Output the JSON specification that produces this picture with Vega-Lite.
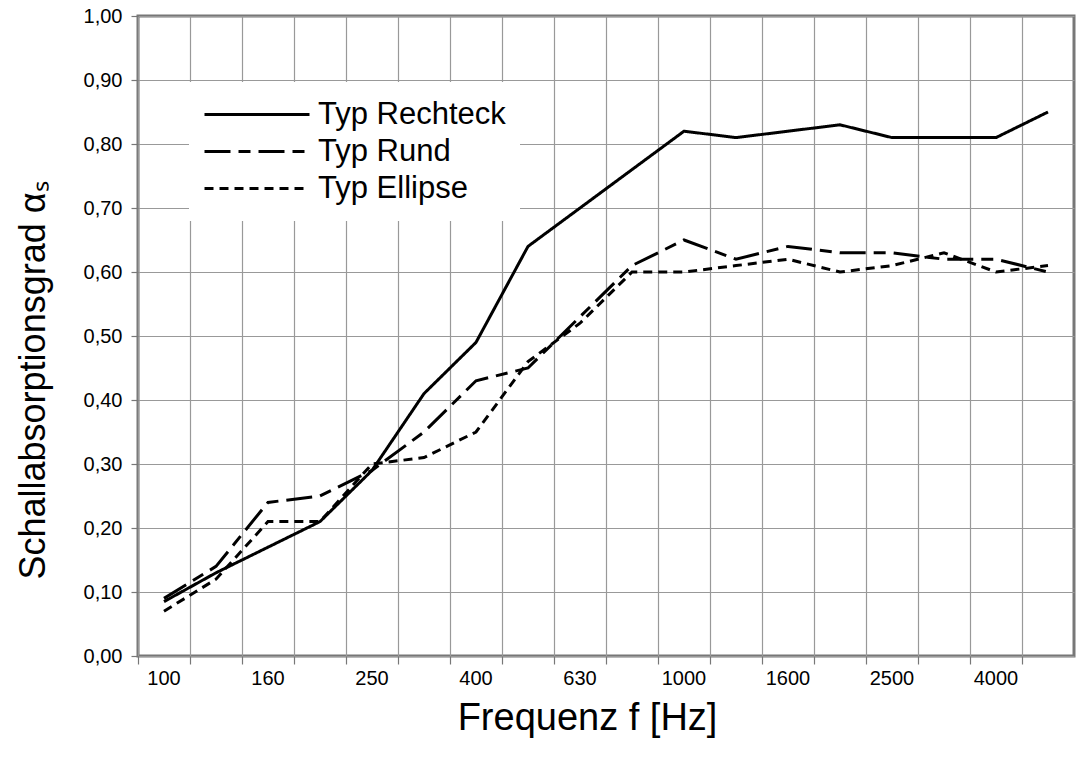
{
  "$schema": "https://vega.github.io/schema/vega-lite/v6.json",
  "width": 936,
  "height": 640,
  "autosize": "none",
  "padding": {"left": 138, "top": 16, "right": 9, "bottom": 111},
  "background": "white",
  "config": {
    "font": "Liberation Sans",
    "view": {"stroke": "#777777", "strokeWidth": 3},
    "axis": {
      "labelFont": "Liberation Sans",
      "titleFont": "Liberation Sans",
      "labelColor": "black",
      "titleColor": "black",
      "titleFontWeight": "normal",
      "gridColor": "#999999",
      "gridWidth": 1.2,
      "gridOpacity": 1,
      "tickColor": "#777777",
      "tickWidth": 1.2,
      "domain": false
    }
  },
  "data": {
    "values": [
      {"f": 100, "typ": "Typ Rechteck", "a": 0.085},
      {"f": 125, "typ": "Typ Rechteck", "a": 0.13},
      {"f": 160, "typ": "Typ Rechteck", "a": 0.17},
      {"f": 200, "typ": "Typ Rechteck", "a": 0.21},
      {"f": 250, "typ": "Typ Rechteck", "a": 0.29},
      {"f": 315, "typ": "Typ Rechteck", "a": 0.41},
      {"f": 400, "typ": "Typ Rechteck", "a": 0.49},
      {"f": 500, "typ": "Typ Rechteck", "a": 0.64},
      {"f": 630, "typ": "Typ Rechteck", "a": 0.70},
      {"f": 800, "typ": "Typ Rechteck", "a": 0.76},
      {"f": 1000, "typ": "Typ Rechteck", "a": 0.82},
      {"f": 1250, "typ": "Typ Rechteck", "a": 0.81},
      {"f": 1600, "typ": "Typ Rechteck", "a": 0.82},
      {"f": 2000, "typ": "Typ Rechteck", "a": 0.83},
      {"f": 2500, "typ": "Typ Rechteck", "a": 0.81},
      {"f": 3150, "typ": "Typ Rechteck", "a": 0.81},
      {"f": 4000, "typ": "Typ Rechteck", "a": 0.81},
      {"f": 5000, "typ": "Typ Rechteck", "a": 0.85},
      {"f": 100, "typ": "Typ Rund", "a": 0.09},
      {"f": 125, "typ": "Typ Rund", "a": 0.14},
      {"f": 160, "typ": "Typ Rund", "a": 0.24},
      {"f": 200, "typ": "Typ Rund", "a": 0.25},
      {"f": 250, "typ": "Typ Rund", "a": 0.29},
      {"f": 315, "typ": "Typ Rund", "a": 0.35},
      {"f": 400, "typ": "Typ Rund", "a": 0.43},
      {"f": 500, "typ": "Typ Rund", "a": 0.45},
      {"f": 630, "typ": "Typ Rund", "a": 0.53},
      {"f": 800, "typ": "Typ Rund", "a": 0.61},
      {"f": 1000, "typ": "Typ Rund", "a": 0.65},
      {"f": 1250, "typ": "Typ Rund", "a": 0.62},
      {"f": 1600, "typ": "Typ Rund", "a": 0.64},
      {"f": 2000, "typ": "Typ Rund", "a": 0.63},
      {"f": 2500, "typ": "Typ Rund", "a": 0.63},
      {"f": 3150, "typ": "Typ Rund", "a": 0.62},
      {"f": 4000, "typ": "Typ Rund", "a": 0.62},
      {"f": 5000, "typ": "Typ Rund", "a": 0.60},
      {"f": 100, "typ": "Typ Ellipse", "a": 0.07},
      {"f": 125, "typ": "Typ Ellipse", "a": 0.12},
      {"f": 160, "typ": "Typ Ellipse", "a": 0.21},
      {"f": 200, "typ": "Typ Ellipse", "a": 0.21},
      {"f": 250, "typ": "Typ Ellipse", "a": 0.30},
      {"f": 315, "typ": "Typ Ellipse", "a": 0.31},
      {"f": 400, "typ": "Typ Ellipse", "a": 0.35},
      {"f": 500, "typ": "Typ Ellipse", "a": 0.46},
      {"f": 630, "typ": "Typ Ellipse", "a": 0.52},
      {"f": 800, "typ": "Typ Ellipse", "a": 0.60},
      {"f": 1000, "typ": "Typ Ellipse", "a": 0.60},
      {"f": 1250, "typ": "Typ Ellipse", "a": 0.61},
      {"f": 1600, "typ": "Typ Ellipse", "a": 0.62},
      {"f": 2000, "typ": "Typ Ellipse", "a": 0.60},
      {"f": 2500, "typ": "Typ Ellipse", "a": 0.61},
      {"f": 3150, "typ": "Typ Ellipse", "a": 0.63},
      {"f": 4000, "typ": "Typ Ellipse", "a": 0.60},
      {"f": 5000, "typ": "Typ Ellipse", "a": 0.61}
    ]
  },
  "mark": {"type": "line", "color": "black", "strokeWidth": 3},
  "encoding": {
    "x": {
      "field": "f",
      "type": "ordinal",
      "sort": null,
      "bandPosition": 0.5,
      "scale": {"type": "band", "paddingInner": 0, "paddingOuter": 0},
      "axis": {
        "title": "Frequenz f [Hz]",
        "titleFontSize": 38,
        "titlePadding": 11,
        "titleX": 449,
        "bandPosition": 0,
        "labelAngle": 0,
        "labelFontSize": 20,
        "labelPadding": 4,
        "tickSize": 8,
        "grid": true,
        "labelExpr": "indexof(['100','160','250','400','630','1000','1600','2500','4000'], datum.label) >= 0 ? datum.label : ''"
      }
    },
    "y": {
      "field": "a",
      "type": "quantitative",
      "scale": {"domain": [0, 1], "nice": false, "zero": true},
      "axis": {
        "title": "Schallabsorptionsgrad αₛ",
        "titleFontSize": 36,
        "titlePadding": 31,
        "titleY": 364,
        "values": [0, 0.1, 0.2, 0.3, 0.4, 0.5, 0.6, 0.7, 0.8, 0.9, 1.0],
        "labelFontSize": 20,
        "labelPadding": 9,
        "tickSize": 7,
        "grid": true,
        "labelExpr": "replace(format(datum.value, '.2f'), '.', ',')"
      }
    },
    "strokeDash": {
      "field": "typ",
      "type": "nominal",
      "sort": ["Typ Rechteck", "Typ Rund", "Typ Ellipse"],
      "scale": {
        "domain": ["Typ Rechteck", "Typ Rund", "Typ Ellipse"],
        "range": [[1, 0], [26, 8, 12, 8], [9, 6]]
      },
      "legend": {
        "title": null,
        "orient": "none",
        "legendX": 51,
        "legendY": 66,
        "fillColor": "white",
        "strokeColor": null,
        "padding": 14,
        "symbolType": "stroke",
        "symbolSize": 11025,
        "symbolStrokeWidth": 3,
        "symbolStrokeColor": "black",
        "labelFontSize": 31,
        "labelColor": "black",
        "labelFont": "Liberation Sans",
        "labelOffset": 7,
        "clipHeight": 37,
        "rowPadding": 0,
        "labelLimit": 400
      }
    }
  }
}
